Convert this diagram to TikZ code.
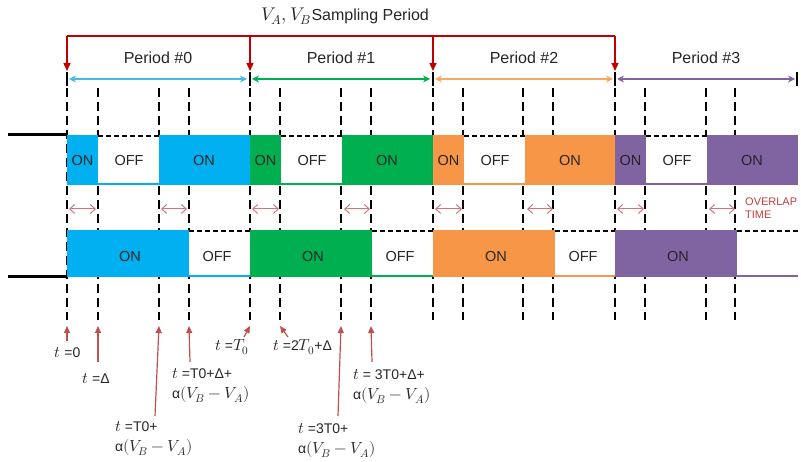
\documentclass[tikz,border=0pt]{standalone}
\usepackage{fontspec}
\usepackage{unicode-math}
\setmainfont{Liberation Sans}
\setmathfont{Latin Modern Math}[Scale=1.15]
\usetikzlibrary{arrows.meta}
\definecolor{cA}{RGB}{0,176,240}
\definecolor{cB}{RGB}{0,176,80}
\definecolor{cC}{RGB}{247,150,70}
\definecolor{cD}{RGB}{128,100,162}
\definecolor{pA}{RGB}{70,185,230}
\definecolor{pB}{RGB}{0,176,80}
\definecolor{pC}{RGB}{245,170,100}
\definecolor{pD}{RGB}{128,100,162}
\definecolor{brk}{RGB}{192,0,0}
\definecolor{ann}{RGB}{192,80,77}
\definecolor{ovl}{RGB}{205,120,120}
\definecolor{ovtxt}{RGB}{200,60,60}
\begin{document}
\begin{tikzpicture}[x=1pt,y=-1pt,
  vdash/.style={line width=2pt, dash pattern=on 9pt off 5pt},
  offtop/.style={line width=1.8pt, dash pattern=on 5pt off 3pt},
  wl/.style={font=\fontsize{14.5}{17}\selectfont, text=black!85, inner sep=0pt},
  perlbl/.style={font=\fontsize{16}{18}\selectfont, text=black!85, inner sep=0pt},
  anl/.style={font=\fontsize{14}{20}\selectfont, text=black!85, inner sep=0pt, align=left},
  annarr/.style={ann, line width=1.2pt, -{Triangle[length=7pt,width=6pt]}},
  brkarr/.style={brk, line width=1.3pt, -{Triangle[length=8pt,width=7pt]}},
  ovarr/.style={ovl, line width=1pt, {Straight Barb[length=5pt,width=9pt]}-{Straight Barb[length=5pt,width=9pt]}},
  tick/.style={line width=2.5pt}
]
\useasboundingbox (0,0) rectangle (801,462);

% dashed vertical time lines
\foreach \x [count=\i] in {67,98,159,189,250,280,341,371,433,463,523,553,615,645,706,735}{
  \coordinate (vt\i) at (\x,88);
  \coordinate (vb\i) at (\x,320);
  \coordinate (ab\i) at (\x,326);
  \draw[vdash] (vt\i) -- (vb\i);
}

% left black leads
\coordinate (lt0) at (8,135); \coordinate (lt1) at (67,135);
\coordinate (lb0) at (8,277); \coordinate (lb1) at (67,277);
\draw[line width=3pt] (lt0) -- (lt1);
\draw[line width=3pt] (lb0) -- (lb1);

% waveforms, periods
\foreach \k/\s/\c/\p in {0/67/cA/pA,1/250/cB/pB,2/433/cC/pC,3/615/cD/pD}{
  % top waveform
  \fill[\c] (\s,135) rectangle (\s+31,185);
  \fill[white] (\s+31,135) rectangle (\s+92,185);
  \draw[offtop] (\s+31,136) -- (\s+92,136);
  \draw[\c, line width=2pt] (\s+31,184) -- (\s+92,184);
  \fill[\c] (\s+92,135) rectangle (\s+183,185);
  \node[wl] (tOnA\k) at (\s+15.5,161) {ON};
  \node[wl] (tOff\k) at (\s+62,161) {OFF};
  \node[wl] (tOnB\k) at (\s+137,161) {ON};
  % bottom waveform
  \fill[\c] (\s,230) rectangle (\s+122,277);
  \fill[white] (\s+122,230) rectangle (\s+183,277);
  \draw[offtop] (\s+122,231) -- (\s+183,231);
  \draw[\c, line width=2pt] (\s+122,276) -- (\s+183,276);
  \node[wl] (bOn\k) at (\s+63,257) {ON};
  % overlap arrows
  \coordinate (oa\k) at (\s+2,209); \coordinate (ob\k) at (\s+29,209);
  \coordinate (oc\k) at (\s+94,209); \coordinate (od\k) at (\s+120,209);
  \draw[ovarr] (oa\k) -- (ob\k);
  \draw[ovarr] (oc\k) -- (od\k);
  % period arrows
  \coordinate (ps\k) at (\s+2,79); \coordinate (pe\k) at (\s+180,79);
  \draw[\p, line width=1.8pt, {Stealth[length=7pt,width=7pt]}-{Stealth[length=7pt,width=7pt]}] (ps\k) -- (pe\k);
  \node[perlbl] (per\k) at (\s+91,58) {Period \#\k};
  % ticks
  \coordinate (kt\k) at (\s,72); \coordinate (kb\k) at (\s,86);
  \draw[tick] (kt\k) -- (kb\k);
}
\node[wl] (bOff0) at (217,257) {OFF};
\node[wl] (bOff1) at (400,257) {OFF};
\node[wl] (bOff2) at (583,257) {OFF};
\coordinate (kt4) at (797,72); \coordinate (kb4) at (797,86);
\draw[tick] (kt4) -- (kb4);

% sampling period bracket
\coordinate (r0) at (67,36); \coordinate (r3) at (615,36);
\coordinate (r1) at (250,36); \coordinate (r2) at (433,36);
\coordinate (q0) at (67,71); \coordinate (q1) at (250,71);
\coordinate (q2) at (433,71); \coordinate (q3) at (615,71);
\draw[brk, line width=1.3pt] (r0) -- (r3);
\draw[brkarr] (r0) -- (q0);
\draw[brkarr] (r1) -- (q1);
\draw[brkarr] (r2) -- (q2);
\draw[brkarr] (r3) -- (q3);
\node[perlbl] (title) at (345,16) {$V_A,V_B$Sampling Period};

% overlap time label
\node[font=\fontsize{11}{12.5}\selectfont, text=ovtxt, anchor=west, inner sep=0pt, align=left] (ovt) at (745,208) {OVERLAP\\TIME};

% annotations
\node[anl] (l1) at (67.5,353) {$t$ =0};
\node[anl] (l2) at (96,379) {$t$ =Δ};
\node[anl, anchor=north west] (l3) at (115,421) {$t$ =T0+\\α$(V_B-V_A)$};
\node[anl, anchor=north west] (l4) at (172,368) {$t$ =T0+Δ+\\α$(V_B-V_A)$};
\node[anl] (l5) at (232,347) {$t$ =$T_0$};
\node[anl, anchor=west] (l6) at (273,347) {$t$ =2$T_0$+Δ};
\node[anl, anchor=north west] (l7) at (298,423) {$t$ =3T0+\\α$(V_B-V_A)$};
\node[anl, anchor=north west] (l8) at (353,369) {$t$ = 3T0+Δ+\\α$(V_B-V_A)$};

\coordinate (s1) at (67,341);
\coordinate (s2) at (98,362);
\coordinate (s3) at (155,416);
\coordinate (s4) at (190,362);
\coordinate (s5) at (244,337);
\coordinate (s6) at (288,337);
\coordinate (s7) at (338,416);
\coordinate (s8) at (372,362);
\draw[annarr] (s1) -- (ab1);
\draw[annarr] (s2) -- (ab2);
\draw[annarr] (s3) -- (ab3);
\draw[annarr] (s4) -- (ab4);
\draw[annarr] (s5) -- (ab5);
\draw[annarr] (s6) -- (ab6);
\draw[annarr] (s7) -- (ab7);
\draw[annarr] (s8) -- (ab8);
\end{tikzpicture}
\end{document}
